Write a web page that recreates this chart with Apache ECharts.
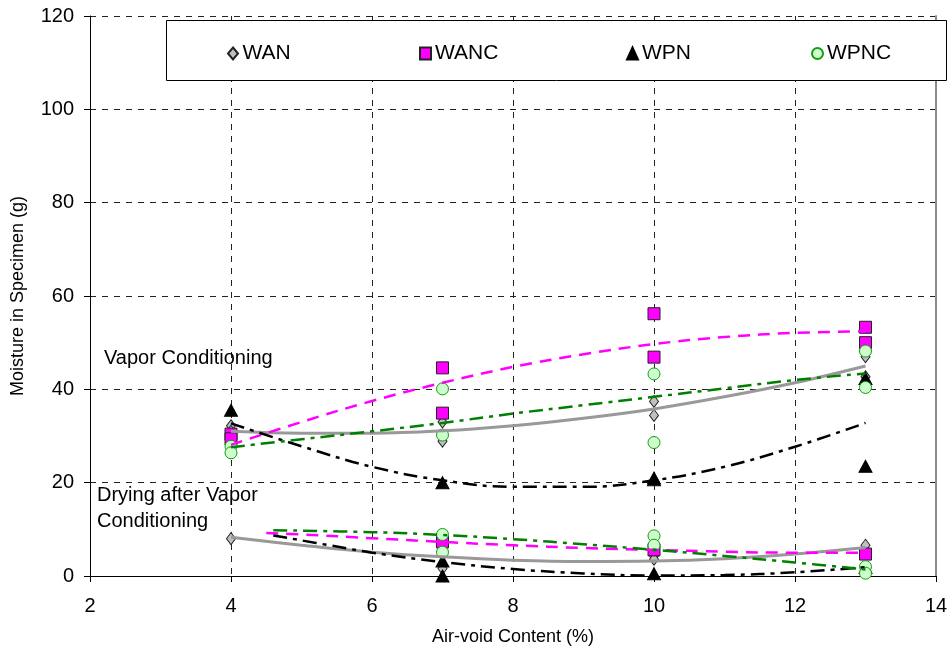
<!DOCTYPE html>
<html>
<head>
<meta charset="utf-8">
<style>
  html, body { margin: 0; padding: 0; background: #fff; }
  #chart { width: 951px; height: 660px; }
</style>
<script src="https://cdn.jsdelivr.net/npm/echarts@6/dist/echarts.min.js"></script>
</head>
<body>
<div id="chart"></div>
<script>
// Axis ranges and ticks
const xMin = 2, xMax = 14, xStep = 2;
const yMin = 0, yMax = 120, yStep = 20;

// Measured specimens: [air-void %, moisture g] (vapor conditioning and drying afterwards)
const wanPoints = [[4, 32.2], [4, 31.0], [7, 33.0], [7, 28.9], [10, 37.4], [10, 34.4], [13, 47.0], [13, 42.7],
                   [4, 8.0], [7, 1.6], [10, 4.3], [10, 3.6], [13, 6.6]];
const wancPoints = [[4, 30.4], [4, 29.4], [7, 44.6], [7, 34.9], [10, 56.2], [10, 46.9], [13, 53.3], [13, 50.0],
                    [7, 7.3], [10, 5.6], [13, 4.7]];
const wpnPoints = [[4, 35.5], [7, 20.0], [10, 20.6], [10, 21.0], [13, 42.3], [13, 23.5],
                   [7, 0.0], [7, 3.2], [10, 0.5], [13, 1.8]];
const wpncPoints = [[4, 27.8], [4, 26.4], [7, 40.1], [7, 30.2], [10, 43.3], [10, 28.6], [13, 48.2], [13, 40.4],
                    [7, 8.9], [7, 5.1], [10, 8.6], [10, 6.6], [13, 2.0], [13, 0.6]];

// Trend curves, vapor conditioning
const wanVaporTrend = [[4, 31.0], [5, 30.6], [6, 30.6], [7, 31.1], [8, 32.2], [9, 33.8], [10, 35.8], [11, 38.4], [12, 41.4], [13, 45.0]];
const wancVaporTrend = [[4, 28.1], [5, 33.0], [6, 37.5], [7, 41.4], [8, 44.8], [9, 47.5], [10, 49.7], [11, 51.2], [12, 52.1], [13, 52.4]];
const wpnVaporTrend = [[4, 32.7], [5, 27.8], [6, 23.4], [7, 20.5], [8, 19.1], [9, 19.1], [10, 20.5], [11, 23.4], [12, 27.7], [13, 32.8]];
const wpncVaporTrend = [[4, 27.6], [5, 29.3], [6, 31.0], [7, 32.8], [8, 34.8], [9, 36.6], [10, 38.4], [11, 40.2], [12, 42.0], [13, 43.4]];

// Trend curves, drying after vapor conditioning
const wanDryTrend = [[4, 8.3], [5, 6.6], [6, 5.1], [7, 4.1], [8, 3.4], [9, 3.1], [10, 3.2], [11, 3.7], [12, 4.7], [13, 6.1]];
const wancDryTrend = [[4.5, 9.2], [5, 8.9], [6, 8.1], [7, 7.3], [8, 6.6], [9, 6.0], [10, 5.6], [11, 5.2], [12, 5.0], [13, 5.0]];
const wpnDryTrend = [[4.6, 8.7], [5.5, 6.3], [6, 5.0], [7, 3.0], [8, 1.5], [9, 0.55], [10, 0.1], [11, 0.2], [12, 0.8], [13, 1.9]];
const wpncDryTrend = [[4.6, 9.8], [6, 9.4], [7, 8.8], [8, 7.9], [9, 6.8], [10, 5.6], [11, 4.3], [12, 2.9], [13, 1.4]];

const seriesNames = ['WAN', 'WANC', 'WPN', 'WPNC'];
const legendLeft = [222, 414, 621, 806];

const FONT = 'Liberation Sans, Arial, sans-serif';
const DIAMOND = 'path://M5,0 L10,6 L5,12 L0,6 Z';

const markerStyles = {
  WAN:  { symbol: DIAMOND, size: [9, 12], color: '#c0c0c0', border: '#222' },
  WANC: { symbol: 'rect', size: 12, color: '#ff00ff', border: '#222' },
  WPN:  { symbol: 'triangle', size: [13, 12], color: '#000', border: '#000' },
  WPNC: { symbol: 'circle', size: 12, color: '#ccffcc', border: '#169a16' }
};

function scatter(name, data) {
  const m = markerStyles[name];
  return {
    name, type: 'scatter', data,
    symbol: m.symbol, symbolSize: m.size,
    itemStyle: { color: m.color, borderColor: m.border, borderWidth: 1, opacity: 1 },
    z: 3
  };
}

function trend(data, color, width, dash) {
  return {
    type: 'line', data, smooth: 0.4, showSymbol: false, symbol: 'none',
    silent: true, clip: true, z: 4,
    lineStyle: { color, width, type: dash }
  };
}

const chart = echarts.init(document.getElementById('chart'), null, { renderer: 'canvas' });

const option = {
  backgroundColor: '#fff',
  animation: false,
  grid: { left: 90, right: 15, top: 16, bottom: 84, containLabel: false },
  legend: seriesNames.map((n, i) => ({
    data: [n], left: legendLeft[i], top: 38, itemWidth: 11, itemHeight: 12, itemGap: 0,
    textStyle: { fontFamily: FONT, fontSize: 21, color: '#000', padding: [0, 0, 0, -1] },
    z: 10, selectedMode: false
  })),
  xAxis: {
    type: 'value', min: xMin, max: xMax, interval: xStep,
    name: 'Air-void Content (%)', nameLocation: 'middle', nameGap: 52,
    nameTextStyle: { fontFamily: FONT, fontSize: 18, color: '#000' },
    axisLine: { show: true, onZero: false, lineStyle: { color: '#000', width: 1 } },
    axisTick: { show: true, inside: false, length: 6, lineStyle: { color: '#000' } },
    axisLabel: { fontFamily: FONT, fontSize: 20, color: '#000', margin: 20 },
    splitLine: { show: true, lineStyle: { color: '#222', width: 1, type: [6, 6] } }
  },
  yAxis: [{
    type: 'value', min: yMin, max: yMax, interval: yStep,
    name: 'Moisture in Specimen (g)', nameLocation: 'middle', nameGap: 63,
    nameTextStyle: { fontFamily: FONT, fontSize: 18, color: '#000' },
    axisLine: { show: true, lineStyle: { color: '#000', width: 1 } },
    axisTick: { show: true, inside: false, length: 6, lineStyle: { color: '#000' } },
    axisLabel: { fontFamily: FONT, fontSize: 20, color: '#000', margin: 16 },
    splitLine: { show: true, lineStyle: { color: '#222', width: 1, type: [6, 6] } }
  }, {
    type: 'value', min: yMin, max: yMax, interval: yStep, position: 'right',
    axisLine: { show: true, lineStyle: { color: '#8c8c8c', width: 2 } },
    axisTick: { show: false }, axisLabel: { show: false }, splitLine: { show: false }
  }],
  graphic: [
    {
      type: 'rect', left: 166, top: 20, z: 5,
      shape: { width: 780, height: 60 },
      style: { fill: '#fff', stroke: '#000', lineWidth: 1 }
    },
    {
      type: 'text', left: 104, top: 348, z: 6,
      style: { text: 'Vapor Conditioning', fontFamily: FONT, fontSize: 20, fill: '#000' }
    },
    {
      type: 'text', left: 97, top: 482, z: 6,
      style: { text: 'Drying after Vapor\nConditioning', fontFamily: FONT, fontSize: 20, lineHeight: 26, fill: '#000' }
    }
  ],
  series: [
    scatter('WAN', wanPoints),
    scatter('WANC', wancPoints),
    scatter('WPN', wpnPoints),
    scatter('WPNC', wpncPoints),
    trend(wanVaporTrend, '#999999', 3, 'solid'),
    trend(wanDryTrend, '#999999', 3, 'solid'),
    trend(wancVaporTrend, '#ff00ff', 2.5, [12, 8]),
    trend(wancDryTrend, '#ff00ff', 2.5, [12, 8]),
    trend(wpnVaporTrend, '#000000', 2.5, [14, 6, 4, 6]),
    trend(wpnDryTrend, '#000000', 2.5, [14, 6, 4, 6]),
    trend(wpncVaporTrend, '#008000', 2.5, [14, 6, 4, 6]),
    trend(wpncDryTrend, '#008000', 2.5, [14, 6, 4, 6])
  ]
};

chart.setOption(option);
</script>
</body>
</html>
